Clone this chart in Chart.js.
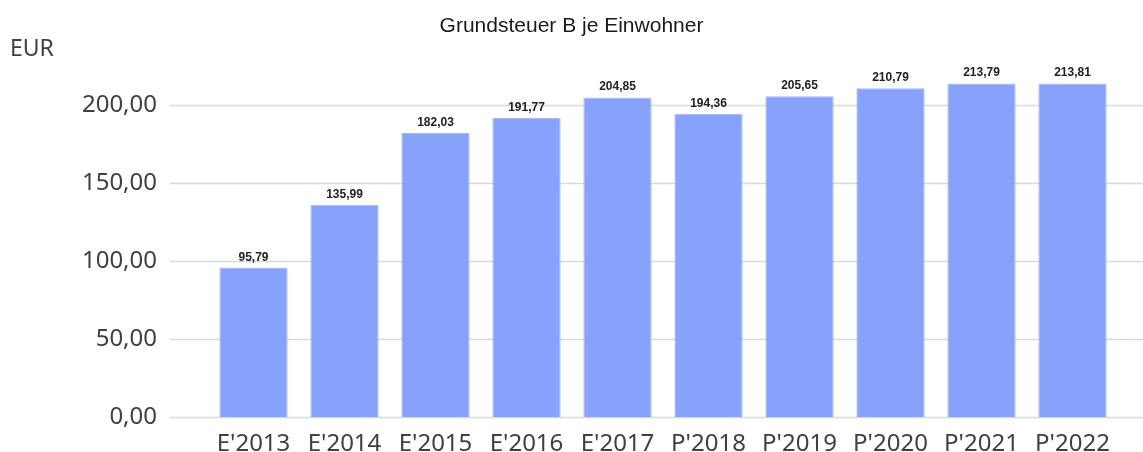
<!DOCTYPE html>
<html>
<head>
<meta charset="utf-8">
<script src="https://cdn.jsdelivr.net/npm/chart.js@4"></script>
<style>
  html, body { margin: 0; padding: 0; background: #ffffff; }
  #wrap { width: 1143px; height: 452px; }
</style>
</head>
<body>
<div id="wrap"><canvas id="c" width="1143" height="452"></canvas></div>
<script>
const titleText = "Grundsteuer B je Einwohner";
const unitLabel = "EUR";
const categories = ["E'2013", "E'2014", "E'2015", "E'2016", "E'2017", "P'2018", "P'2019", "P'2020", "P'2021", "P'2022"];
const values = [95.79, 135.99, 182.03, 191.77, 204.85, 194.36, 205.65, 210.79, 213.79, 213.81];
const yTicks = [0, 50, 100, 150, 200];

const fmt = v => v.toFixed(2).replace('.', ',');

const gridPlugin = {
  id: 'extGrid',
  beforeDatasetsDraw(chart) {
    const ctx = chart.ctx, y = chart.scales.y;
    ctx.save();
    ctx.strokeStyle = '#d9d9d9';
    ctx.lineWidth = 1.5;
    y.ticks.forEach(t => {
      const py = Math.round(y.getPixelForValue(t.value)) + 0.5;
      ctx.beginPath();
      ctx.moveTo(170, py);
      ctx.lineTo(chart.width, py);
      ctx.stroke();
    });
    ctx.restore();
  }
};

const labelPlugin = {
  id: 'valLabels',
  afterDatasetsDraw(chart) {
    const ctx = chart.ctx;
    const meta = chart.getDatasetMeta(0);
    ctx.save();
    ctx.font = 'bold 12px "Liberation Sans", Arial, sans-serif';
    ctx.fillStyle = '#222222';
    ctx.textAlign = 'center';
    ctx.textBaseline = 'alphabetic';
    meta.data.forEach((bar, i) => {
      ctx.fillText(fmt(values[i]), bar.x, bar.y - 7);
    });
    ctx.fillStyle = '#404040';
    ctx.font = '23px "Noto Sans", sans-serif';
    ctx.textAlign = 'left';
    ctx.textBaseline = 'middle';
    ctx.fillText(unitLabel, 10, 49);
    ctx.restore();
  }
};

new Chart(document.getElementById('c'), {
  type: 'bar',
  data: {
    labels: categories,
    datasets: [{
      data: values,
      backgroundColor: 'rgb(135,162,250)',
      borderColor: 'rgb(160,182,252)',
      borderWidth: 1,
      categoryPercentage: 1.0,
      barPercentage: 0.75
    }]
  },
  options: {
    responsive: false,
    devicePixelRatio: 1,
    animation: false,
    layout: { padding: { left: 0, right: 0, top: 0, bottom: 0 } },
    plugins: {
      legend: { display: false },
      tooltip: { enabled: false },
      title: {
        display: true,
        text: titleText,
        color: '#1a1a1a',
        font: { family: '"Liberation Sans", Arial, sans-serif', size: 21, weight: 'normal', lineHeight: 1.2 },
        padding: { top: 14, bottom: 26.8 }
      }
    },
    scales: {
      x: {
        grid: { display: false },
        border: { display: false },
        ticks: {
          color: '#404040',
          padding: 5,
          font: { family: '"Noto Sans", sans-serif', size: 24 },
          maxRotation: 0
        },
        afterFit(scale) { scale.height = 35; }
      },
      y: {
        min: 0,
        max: 225,
        grid: { display: false },
        border: { display: false },
        afterBuildTicks(scale) { scale.ticks = yTicks.map(v => ({ value: v })); },
        ticks: {
          color: '#404040',
          padding: 43,
          font: { family: '"Noto Sans", sans-serif', size: 24 },
          callback: v => fmt(v)
        },
        afterFit(scale) {
          scale.width = 208;
          scale.paddingTop = 10;
          scale.paddingBottom = 10;
        }
      },
      yRight: {
        position: 'right',
        display: true,
        min: 0,
        max: 225,
        grid: { display: false },
        border: { display: false },
        ticks: { display: false },
        afterFit(scale) {
          scale.width = 25;
          scale.paddingTop = 0;
          scale.paddingBottom = 0;
        }
      }
    }
  },
  plugins: [gridPlugin, labelPlugin]
});
</script>
</body>
</html>
